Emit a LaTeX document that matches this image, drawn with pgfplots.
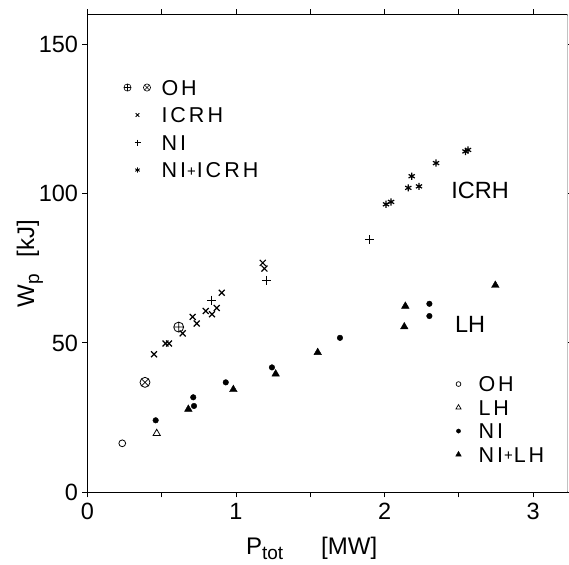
\documentclass[border=0pt]{standalone}
\usepackage{fontspec}
\setmainfont{Liberation Sans}
\newfontfamily\lsp[LetterSpace=14]{Liberation Sans}
\usepackage{pgfplots}
\pgfplotsset{compat=1.18}

\pgfplotstableread{
x y
0.448 46.2
0.525 49.8
0.549 49.8
0.641 53.2
0.708 58.7
0.735 56.5
0.796 60.7
0.838 59.6
0.870 61.7
0.904 66.8
1.180 76.8
1.191 74.9
}\icrh
\pgfplotstableread{
x y
0.836 64.3
1.204 71.0
1.898 84.6
}\ni
\pgfplotstableread{
x y
2.010 96.4
2.044 97.2
2.160 101.9
2.183 105.8
2.232 102.4
2.347 110.2
2.545 114.1
2.562 114.6
}\niicrh
\pgfplotstableread{
x y
0.459 24.1
0.712 31.8
0.717 28.9
0.931 36.8
1.242 41.8
1.700 51.7
2.302 63.1
2.302 59.0
}\nidot
\pgfplotstableread{
x y
0.679 27.8
0.982 34.4
1.267 39.6
1.550 46.8
2.133 55.4
2.140 62.3
2.746 69.3
}\nilh

\begin{document}
\begin{tikzpicture}
\pgfplotsset{
  common/.style={
    at={(0pt,0pt)}, anchor=south west,
    width=480pt, height=478pt, scale only axis,
    xmin=0, xmax=3.232, ymin=0, ymax=160,
  },
  leg/.style={
    legend cell align=left,
    legend style={draw=none, fill=none, inner sep=0pt, outer sep=0pt,
      font=\lsp\fontsize{21.5}{24}\selectfont,
      row sep=#1,
      nodes={inner xsep=0pt, inner ysep=0pt, text height=15.5pt, text depth=0pt}},
  },
}
\begin{axis}[common, leg=12pt,
  xtick={0,0.5,...,3}, xticklabels={0,,1,,2,,3},
  ytick={0,50,100,150},
  tick align=outside, major tick length=5pt,
  tick style={black, line width=1pt},
  axis line style={line width=1.1pt},
  ticklabel style={font=\fontsize{23.5}{28}\selectfont},
  /pgf/number format/assume math mode=true,
  yticklabel style={xshift=-1pt},
  xticklabel style={yshift=-2pt},
  xlabel={P\raisebox{-5pt}{\fontsize{19}{19}\selectfont tot}\hspace{38pt}[MW]},
  xlabel style={font=\fontsize{24}{28}\selectfont, at={(axis description cs:0.467,-0.1300)}, anchor=base},
  ylabel={W\raisebox{-5pt}{\fontsize{19}{19}\selectfont p}\hspace{17pt}[kJ]},
  ylabel style={font=\fontsize{24}{28}\selectfont, at={(axis description cs:-0.1198,0.478)}, anchor=center},
  legend style={at={(rel axis cs:0,1)}, anchor=north west, xshift=36pt, yshift=-65.5pt},
]
\addplot[only marks, mark=oplus, mark size=5pt, line width=0.8pt,
  legend image code/.code={\path[draw=none,fill=none] (-14pt,-4pt) rectangle (24pt,4pt);
    \draw[line width=0.6pt] plot[mark=oplus, mark size=3.6pt] coordinates {(-10pt,0pt)};
    \draw[line width=0.6pt] plot[mark=otimes, mark size=3.6pt] coordinates {(9.5pt,0pt)};}]
  coordinates {(0.614,55.3)};
\addlegendentry{OH}
\addplot[only marks, mark=x, mark size=4.2pt, line width=1.2pt,
  legend image code/.code={\path[draw=none,fill=none] (-14pt,-4pt) rectangle (24pt,4pt);
    \draw[line width=0.8pt] plot[mark=x, mark size=2.6pt] coordinates {(0pt,0pt)};}]
  table[x=x,y=y]{\icrh};
\addlegendentry{ICRH}
\addplot[only marks, mark=+, mark size=4.5pt, line width=1.2pt,
  legend image code/.code={\path[draw=none,fill=none] (-14pt,-4pt) rectangle (24pt,4pt);
    \draw[line width=0.8pt] plot[mark=+, mark size=3pt] coordinates {(0pt,0pt)};}]
  table[x=x,y=y]{\ni};
\addlegendentry{NI}
\addplot[only marks, mark=asterisk, mark size=3.6pt, line width=1.2pt,
  legend image code/.code={\path[draw=none,fill=none] (-14pt,-4pt) rectangle (24pt,4pt);
    \draw[line width=0.9pt] plot[mark=asterisk, mark size=2.6pt] coordinates {(0pt,0pt)};}]
  table[x=x,y=y]{\niicrh};
\addlegendentry{NI\kern1pt{\fontsize{15}{15}\selectfont\raisebox{1.5pt}{+}}\kern1pt ICRH}
\addplot[only marks, mark=otimes, mark size=5pt, line width=0.8pt, forget plot]
  coordinates {(0.387,36.8)};
\node[font=\fontsize{23.5}{28}\selectfont] at (axis cs:2.643,101.1) {ICRH};
\node[font=\fontsize{23.5}{28}\selectfont] at (axis cs:2.576,56.3) {LH};
\draw[white, line width=2pt] (rel axis cs:1,0.003) -- (rel axis cs:1,0.997);
\draw[gray!35, line width=0.6pt] (rel axis cs:1,0) -- (rel axis cs:1,1);
\end{axis}
\begin{axis}[common, hide axis, leg=8pt,
  legend style={at={(rel axis cs:0,1)}, anchor=north west, xshift=361pt, yshift=-362pt},
]
\addplot[only marks, mark=o, mark size=3.4pt, line width=0.8pt,
  legend image code/.code={\path[draw=none,fill=none] (-10pt,-4pt) rectangle (20pt,4pt);
    \draw[line width=0.7pt] plot[mark=o, mark size=2.4pt] coordinates {(0pt,0pt)};}]
  coordinates {(0.234,16.4)};
\addlegendentry{OH}
\addplot[only marks, mark=triangle, mark size=4.2pt, line width=0.8pt,
  legend image code/.code={\path[draw=none,fill=none] (-10pt,-4pt) rectangle (20pt,4pt);
    \draw[line width=0.7pt] plot[mark=triangle, mark size=3pt] coordinates {(0pt,0pt)};}]
  coordinates {(0.466,19.7)};
\addlegendentry{LH}
\addplot[only marks, mark=*, mark size=2.8pt, black,
  legend image code/.code={\path[draw=none,fill=none] (-10pt,-4pt) rectangle (20pt,4pt);
    \draw[black] plot[mark=*, mark size=2.1pt] coordinates {(0pt,0pt)};}]
  table[x=x,y=y]{\nidot};
\addlegendentry{NI}
\addplot[only marks, mark=triangle*, mark size=4.4pt, black,
  legend image code/.code={\path[draw=none,fill=none] (-10pt,-4pt) rectangle (20pt,4pt);
    \draw[black] plot[mark=triangle*, mark size=3.2pt] coordinates {(0pt,0pt)};}]
  table[x=x,y=y]{\nilh};
\addlegendentry{NI\kern1pt{\fontsize{15}{15}\selectfont\raisebox{1.5pt}{+}}\kern1pt LH}
\end{axis}
\pgfresetboundingbox
\path[use as bounding box] (-87.5pt,-71.7pt) rectangle (481.5pt,492.3pt);
\end{tikzpicture}
\end{document}
